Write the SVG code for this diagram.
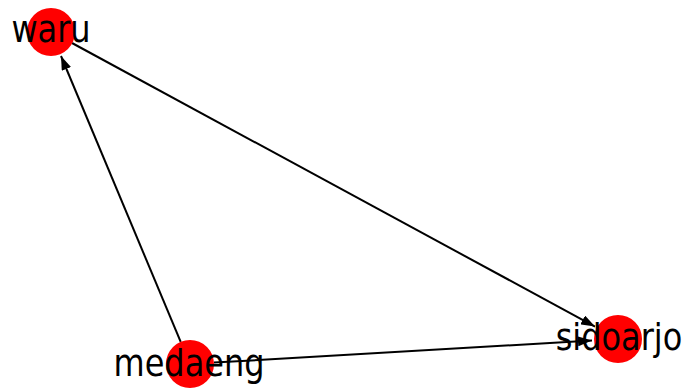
<svg xmlns="http://www.w3.org/2000/svg" width="684" height="390" viewBox="0 0 684 390">
<style>
.edge{stroke:#000;stroke-width:2;fill:none}
.node{fill:#ff0000}
.lbl{font-family:"DejaVu Sans",sans-serif;font-size:32px;fill:#000;text-anchor:middle}
</style>
<defs>
<marker id="arr" viewBox="0 0 14 10" refX="14" refY="5" markerWidth="7" markerHeight="5" markerUnits="strokeWidth" orient="auto">
<path d="M0,0 L14,5 L0,10 Z" fill="#000"/>
</marker>
</defs>
<rect width="684" height="390" fill="#fff"/>
<g id="edges">
<line class="edge" x1="72" y1="43" x2="595" y2="326.6" marker-end="url(#arr)"/>
<line class="edge" x1="180.7" y1="341.9" x2="61" y2="56" marker-end="url(#arr)"/>
<line class="edge" x1="214" y1="362.6" x2="592" y2="340.5" marker-end="url(#arr)"/>
</g>
<g id="node-waru">
<circle class="node" cx="51" cy="32" r="24"/>
<text class="lbl" transform="translate(51,42) scale(1,1.15)">waru</text>
</g>
<g id="node-sidoarjo">
<circle class="node" cx="618" cy="339" r="24"/>
<text class="lbl" transform="translate(619,350) scale(1,1.15)">sidoarjo</text>
</g>
<g id="node-medaeng">
<circle class="node" cx="190" cy="364" r="24"/>
<text class="lbl" transform="translate(189,376) scale(1,1.15)">medaeng</text>
</g>
</svg>
